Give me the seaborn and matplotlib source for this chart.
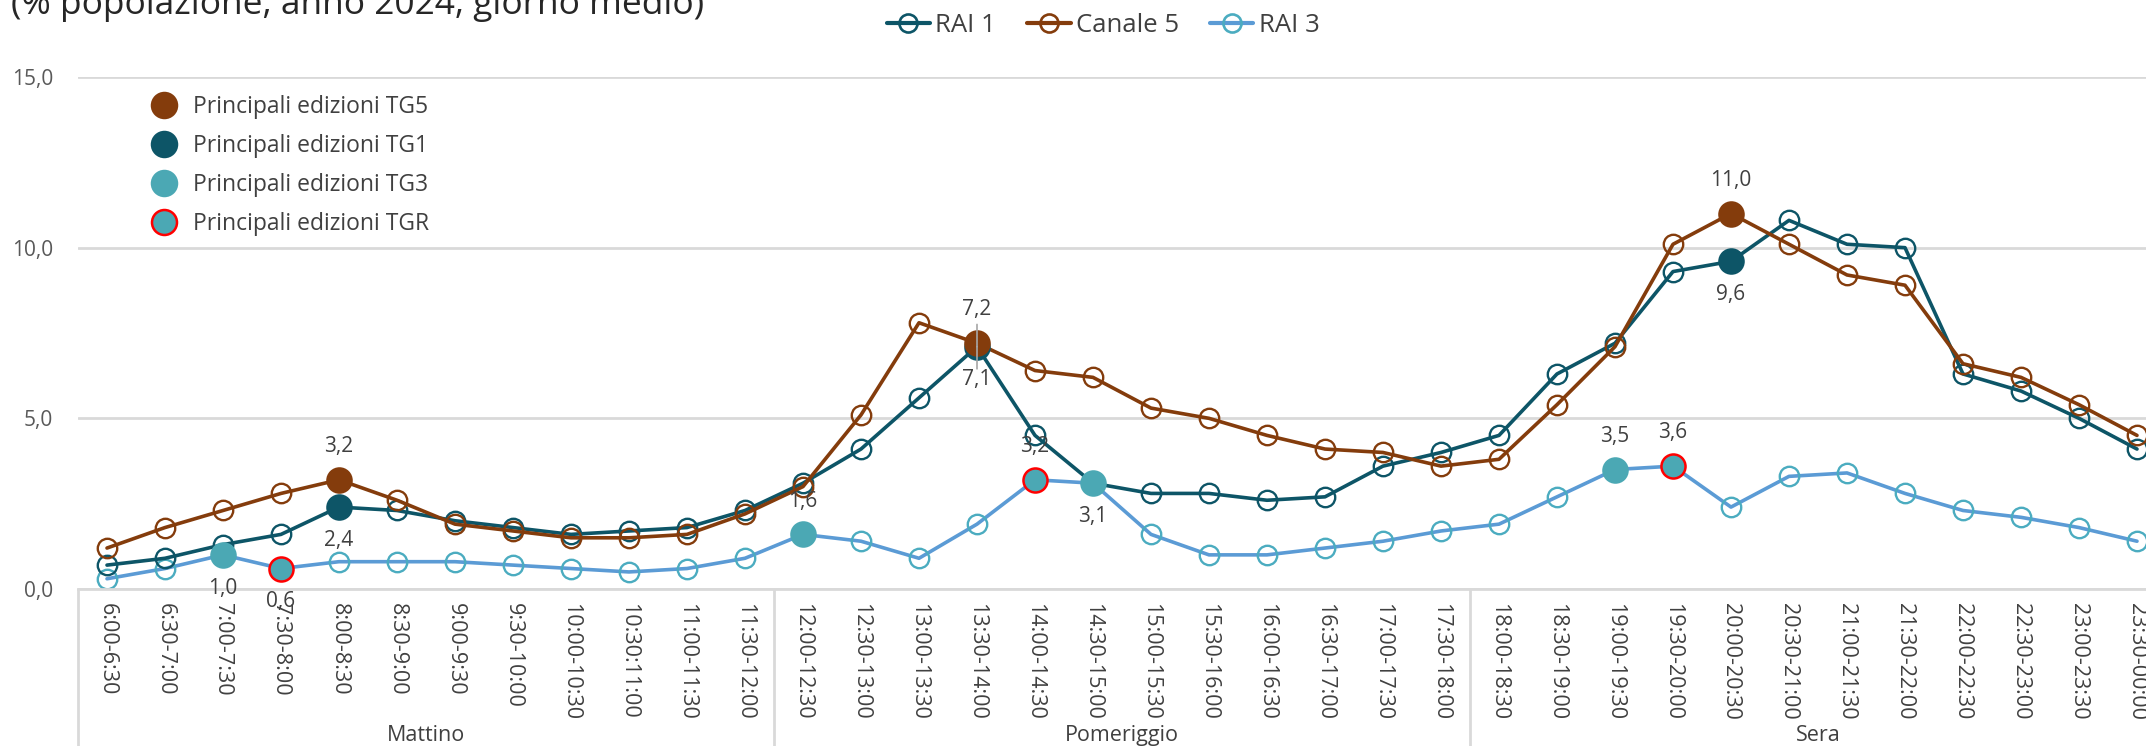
import seaborn as sns
import matplotlib.pyplot as plt
from matplotlib.lines import Line2D
from matplotlib import transforms

# fasce orarie (asse x)
fasce = ['6:00-6:30', '6:30-7:00', '7:00-7:30', '7:30-8:00', '8:00-8:30', '8:30-9:00',
         '9:00-9:30', '9:30-10:00', '10:00-10:30', '10:30:11:00', '11:00-11:30', '11:30-12:00',
         '12:00-12:30', '12:30-13:00', '13:00-13:30', '13:30-14:00', '14:00-14:30', '14:30-15:00',
         '15:00-15:30', '15:30-16:00', '16:00-16:30', '16:30-17:00', '17:00-17:30', '17:30-18:00',
         '18:00-18:30', '18:30-19:00', '19:00-19:30', '19:30-20:00', '20:00-20:30', '20:30-21:00',
         '21:00-21:30', '21:30-22:00', '22:00-22:30', '22:30-23:00', '23:00-23:30', '23:30-00:00']
gruppi = ['Mattino', 'Pomeriggio', 'Sera']
fasce_per_gruppo = 12

rai1 = [0.7, 0.9, 1.3, 1.6, 2.4, 2.3, 2.0, 1.8, 1.6, 1.7, 1.8, 2.3,
        3.1, 4.1, 5.6, 7.1, 4.5, 3.1, 2.8, 2.8, 2.6, 2.7, 3.6, 4.0,
        4.5, 6.3, 7.2, 9.3, 9.6, 10.8, 10.1, 10.0, 6.3, 5.8, 5.0, 4.1]
canale5 = [1.2, 1.8, 2.3, 2.8, 3.2, 2.6, 1.9, 1.7, 1.5, 1.5, 1.6, 2.2,
           3.0, 5.1, 7.8, 7.2, 6.4, 6.2, 5.3, 5.0, 4.5, 4.1, 4.0, 3.6,
           3.8, 5.4, 7.1, 10.1, 11.0, 10.1, 9.2, 8.9, 6.6, 6.2, 5.4, 4.5]
rai3 = [0.3, 0.6, 1.0, 0.6, 0.8, 0.8, 0.8, 0.7, 0.6, 0.5, 0.6, 0.9,
        1.6, 1.4, 0.9, 1.9, 3.2, 3.1, 1.6, 1.0, 1.0, 1.2, 1.4, 1.7,
        1.9, 2.7, 3.5, 3.6, 2.4, 3.3, 3.4, 2.8, 2.3, 2.1, 1.8, 1.4]

# edizioni principali dei TG (fascia, sopra/sotto per l'etichetta)
tg5_fasce = ['8:00-8:30', '13:30-14:00', '20:00-20:30']
tg5_pos = ['sopra', 'sopra', 'sopra']
tg1_fasce = ['8:00-8:30', '13:30-14:00', '20:00-20:30']
tg1_pos = ['sotto', 'sotto', 'sotto']
tg3_fasce = ['7:00-7:30', '12:00-12:30', '14:30-15:00', '19:00-19:30']
tg3_pos = ['sotto', 'sopra', 'sotto', 'sopra']
tgr_fasce = ['7:30-8:00', '14:00-14:30', '19:30-20:00']
tgr_pos = ['sotto', 'sopra', 'sopra']

y_ticks = [0, 5, 10, 15]
y_tick_labels = ['0,0', '5,0', '10,0', '15,0']

C_RAI1 = '#0D5567'
C_C5 = '#843C0C'
C_RAI3 = '#5B9BD5'
C_RAI3_MK = '#4BACC0'
C_TG3 = '#4BA8B4'
C_GRID = '#D9D9D9'
C_TXT = '#404040'

sns.set_style('white')
plt.rcParams['font.family'] = ['Open Sans', 'DejaVu Sans']

W, H = 2146, 746
fig = plt.figure(figsize=(W / 100, H / 100), dpi=100)
ax = fig.add_axes([78 / W, 1 - 589 / H, 2088 / W, 512 / H])

for serie, col, mk in [(rai3, C_RAI3, C_RAI3_MK), (rai1, C_RAI1, C_RAI1), (canale5, C_C5, C_C5)]:
    sns.lineplot(x=fasce, y=serie, ax=ax, color=col, lw=2.6, marker='o', ms=14,
                 markerfacecolor='none', markeredgecolor=mk, markeredgewidth=1.7,
                 sort=False, zorder=2)


def valori(fasce_sel, serie):
    return [serie[fasce.index(f)] for f in fasce_sel]


def fmt(v):
    return f'{v:.1f}'.replace('.', ',')


edizioni = [
    (tgr_fasce, valori(tgr_fasce, rai3), C_TG3, '#FF0000', tgr_pos),
    (tg3_fasce, valori(tg3_fasce, rai3), C_TG3, C_TG3, tg3_pos),
    (tg1_fasce, valori(tg1_fasce, rai1), C_RAI1, C_RAI1, tg1_pos),
    (tg5_fasce, valori(tg5_fasce, canale5), C_C5, C_C5, tg5_pos),
]
for fs, vals, fc, ec, pos in edizioni:
    sns.scatterplot(x=fs, y=vals, ax=ax, color=fc, edgecolor=ec, linewidth=1.8,
                    s=300, zorder=5, legend=False)
    for f, v, p in zip(fs, vals, pos):
        off = 24 if p == 'sopra' else -24
        ax.annotate(fmt(v), xy=(fasce.index(f), v), xytext=(0, off), textcoords='offset points',
                    ha='center', va='center', fontsize=15, color=C_TXT, zorder=6)

# linea guida tra le etichette TG5/TG1 quando i punti quasi coincidono
for f in tg5_fasce:
    i = fasce.index(f)
    if f in tg1_fasce and abs(canale5[i] - rai1[i]) < 0.5:
        for dy in (16, -16):
            ax.annotate('', xy=(i, rai1[i]), xytext=(0, dy), textcoords='offset points',
                        zorder=7,
                        arrowprops=dict(arrowstyle='-', color='#A6A6A6', lw=1.2,
                                        shrinkA=0, shrinkB=0))

# assi
ax.set_xlim(-0.5, len(fasce) - 0.5)
ax.set_ylim(0, 15)
ax.set_yticks(y_ticks)
ax.set_yticklabels(y_tick_labels)
ax.yaxis.grid(True, color=C_GRID, lw=2)
ax.set_axisbelow(True)
for s in ['top', 'right', 'left']:
    ax.spines[s].set_visible(False)
ax.spines['bottom'].set_color(C_GRID)
ax.spines['bottom'].set_linewidth(2)
ax.tick_params(axis='y', length=0, pad=18, labelsize=15, labelcolor='#595959')
ax.tick_params(axis='x', length=0, pad=10, labelsize=15.5, labelcolor=C_TXT)
plt.setp(ax.get_xticklabels(), rotation=270)
ax.set_xlabel('')
ax.set_ylabel('')

# riquadri dei gruppi sotto l'asse
tr = transforms.blended_transform_factory(ax.transData, ax.transAxes)
for i, g in enumerate(gruppi):
    b = i * fasce_per_gruppo - 0.5
    ax.plot([b, b], [0, -0.4], transform=tr, color=C_GRID, lw=2, clip_on=False)
    ax.text(b + fasce_per_gruppo / 2, -0.287, g, transform=tr, ha='center', va='center',
            fontsize=15.5, color=C_TXT)

# legenda serie in alto
h_top = [Line2D([], [], color=c, lw=3, marker='o', ms=13, mfc='none', mec=m, mew=1.9)
         for c, m in [(C_RAI1, C_RAI1), (C_C5, C_C5), (C_RAI3, C_RAI3_MK)]]
fig.legend(h_top, ['RAI 1', 'Canale 5', 'RAI 3'], loc='center', bbox_to_anchor=(1103 / W, 1 - 25 / H),
           ncol=3, frameon=False, fontsize=18.5, handlelength=1.7, handletextpad=0.2,
           columnspacing=1.2, labelcolor=C_TXT)

# legenda edizioni TG
h_tg = [Line2D([], [], ls='none', marker='o', ms=18, mfc=fc, mec=ec, mew=1.8)
        for fc, ec in [(C_C5, C_C5), (C_RAI1, C_RAI1), (C_TG3, C_TG3), (C_TG3, '#FF0000')]]
fig.legend(h_tg, ['Principali edizioni TG5', 'Principali edizioni TG1',
                  'Principali edizioni TG3', 'Principali edizioni TGR'],
           loc='upper left', bbox_to_anchor=(120 / W, 1 - 74 / H), frameon=False,
           fontsize=16.5, labelspacing=0.66, handletextpad=0.3, labelcolor=C_TXT)

fig.text(11 / W, 1 - 14 / H, '(% popolazione, anno 2024, giorno medio)', fontsize=25.5,
         ha='left', va='baseline', color='#262626')

fig.savefig('out.png', dpi=100)
